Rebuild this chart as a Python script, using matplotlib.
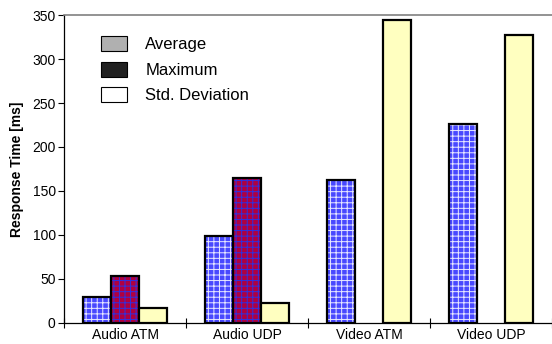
import numpy as np
import matplotlib
matplotlib.use("Agg")
from matplotlib import pyplot as plt
from matplotlib.patches import Patch

plt.rcParams['font.family'] = ['Liberation Sans', 'DejaVu Sans']
plt.rcParams['hatch.linewidth'] = 0.7

categories = ['Audio ATM', 'Audio UDP', 'Video ATM', 'Video UDP']
average = [29, 99, 162, 226]
maximum = [53, 165, np.nan, np.nan]
std_dev = [17, 22, 345, 327]
series_names = ['Average', 'Maximum', 'Std. Deviation']

fig = plt.figure(figsize=(5.52, 3.44), dpi=100)
ax = fig.add_axes([0.116, 0.062, 0.884, 0.894])

x = np.arange(len(categories))
w = 0.232
# (values, face, hatch colour)
styles = [(average, '#4848ff', '#e8e8ff'),
          (maximum, '#b00040', '#3030e0'),
          (std_dev, '#ffffc0', None)]
for i, (vals, face, hcol) in enumerate(styles):
    pos = x + (i - 1) * w
    if hcol is not None:
        ax.bar(pos, vals, w, color=face, edgecolor=hcol, hatch='+++', linewidth=0)
    else:
        ax.bar(pos, vals, w, color=face, linewidth=0)
    ax.bar(pos, vals, w, fill=False, edgecolor='black', linewidth=1.6)

ax.set_xlim(-0.5, 3.5)
ax.set_ylim(0, 350)
ax.set_yticks(range(0, 351, 50))
ax.set_xticks(np.arange(-0.5, 3.6, 1.0))
ax.set_xticklabels([])
ax.set_xticks(x, minor=True)
ax.set_xticklabels(categories, minor=True)
ax.tick_params(axis='x', which='major', direction='inout', length=7, width=0.8)
ax.tick_params(axis='x', which='minor', length=0, labelsize=10, pad=4)
ax.tick_params(axis='y', direction='out', length=4, width=0.8, labelsize=10, pad=2)

ax.spines['right'].set_visible(False)
ax.spines['top'].set_color('#808080')
ax.spines['top'].set_linewidth(1.2)
ax.spines['left'].set_linewidth(0.9)
ax.spines['bottom'].set_linewidth(0.9)

ax.set_ylabel('Response Time [ms]', fontsize=10, fontweight='bold', labelpad=6)

handles = [Patch(facecolor='#b0b0b0', edgecolor='black', linewidth=0.8),
           Patch(facecolor='#202020', edgecolor='black', linewidth=0.8),
           Patch(facecolor='white', edgecolor='black', linewidth=0.8)]
ax.legend(handles, series_names, loc='upper left', bbox_to_anchor=(0.045, 0.98),
          frameon=False, fontsize=12, handlelength=1.55, handleheight=1.0,
          labelspacing=0.55, handletextpad=1.1)

fig.savefig('out.png', dpi=100)
